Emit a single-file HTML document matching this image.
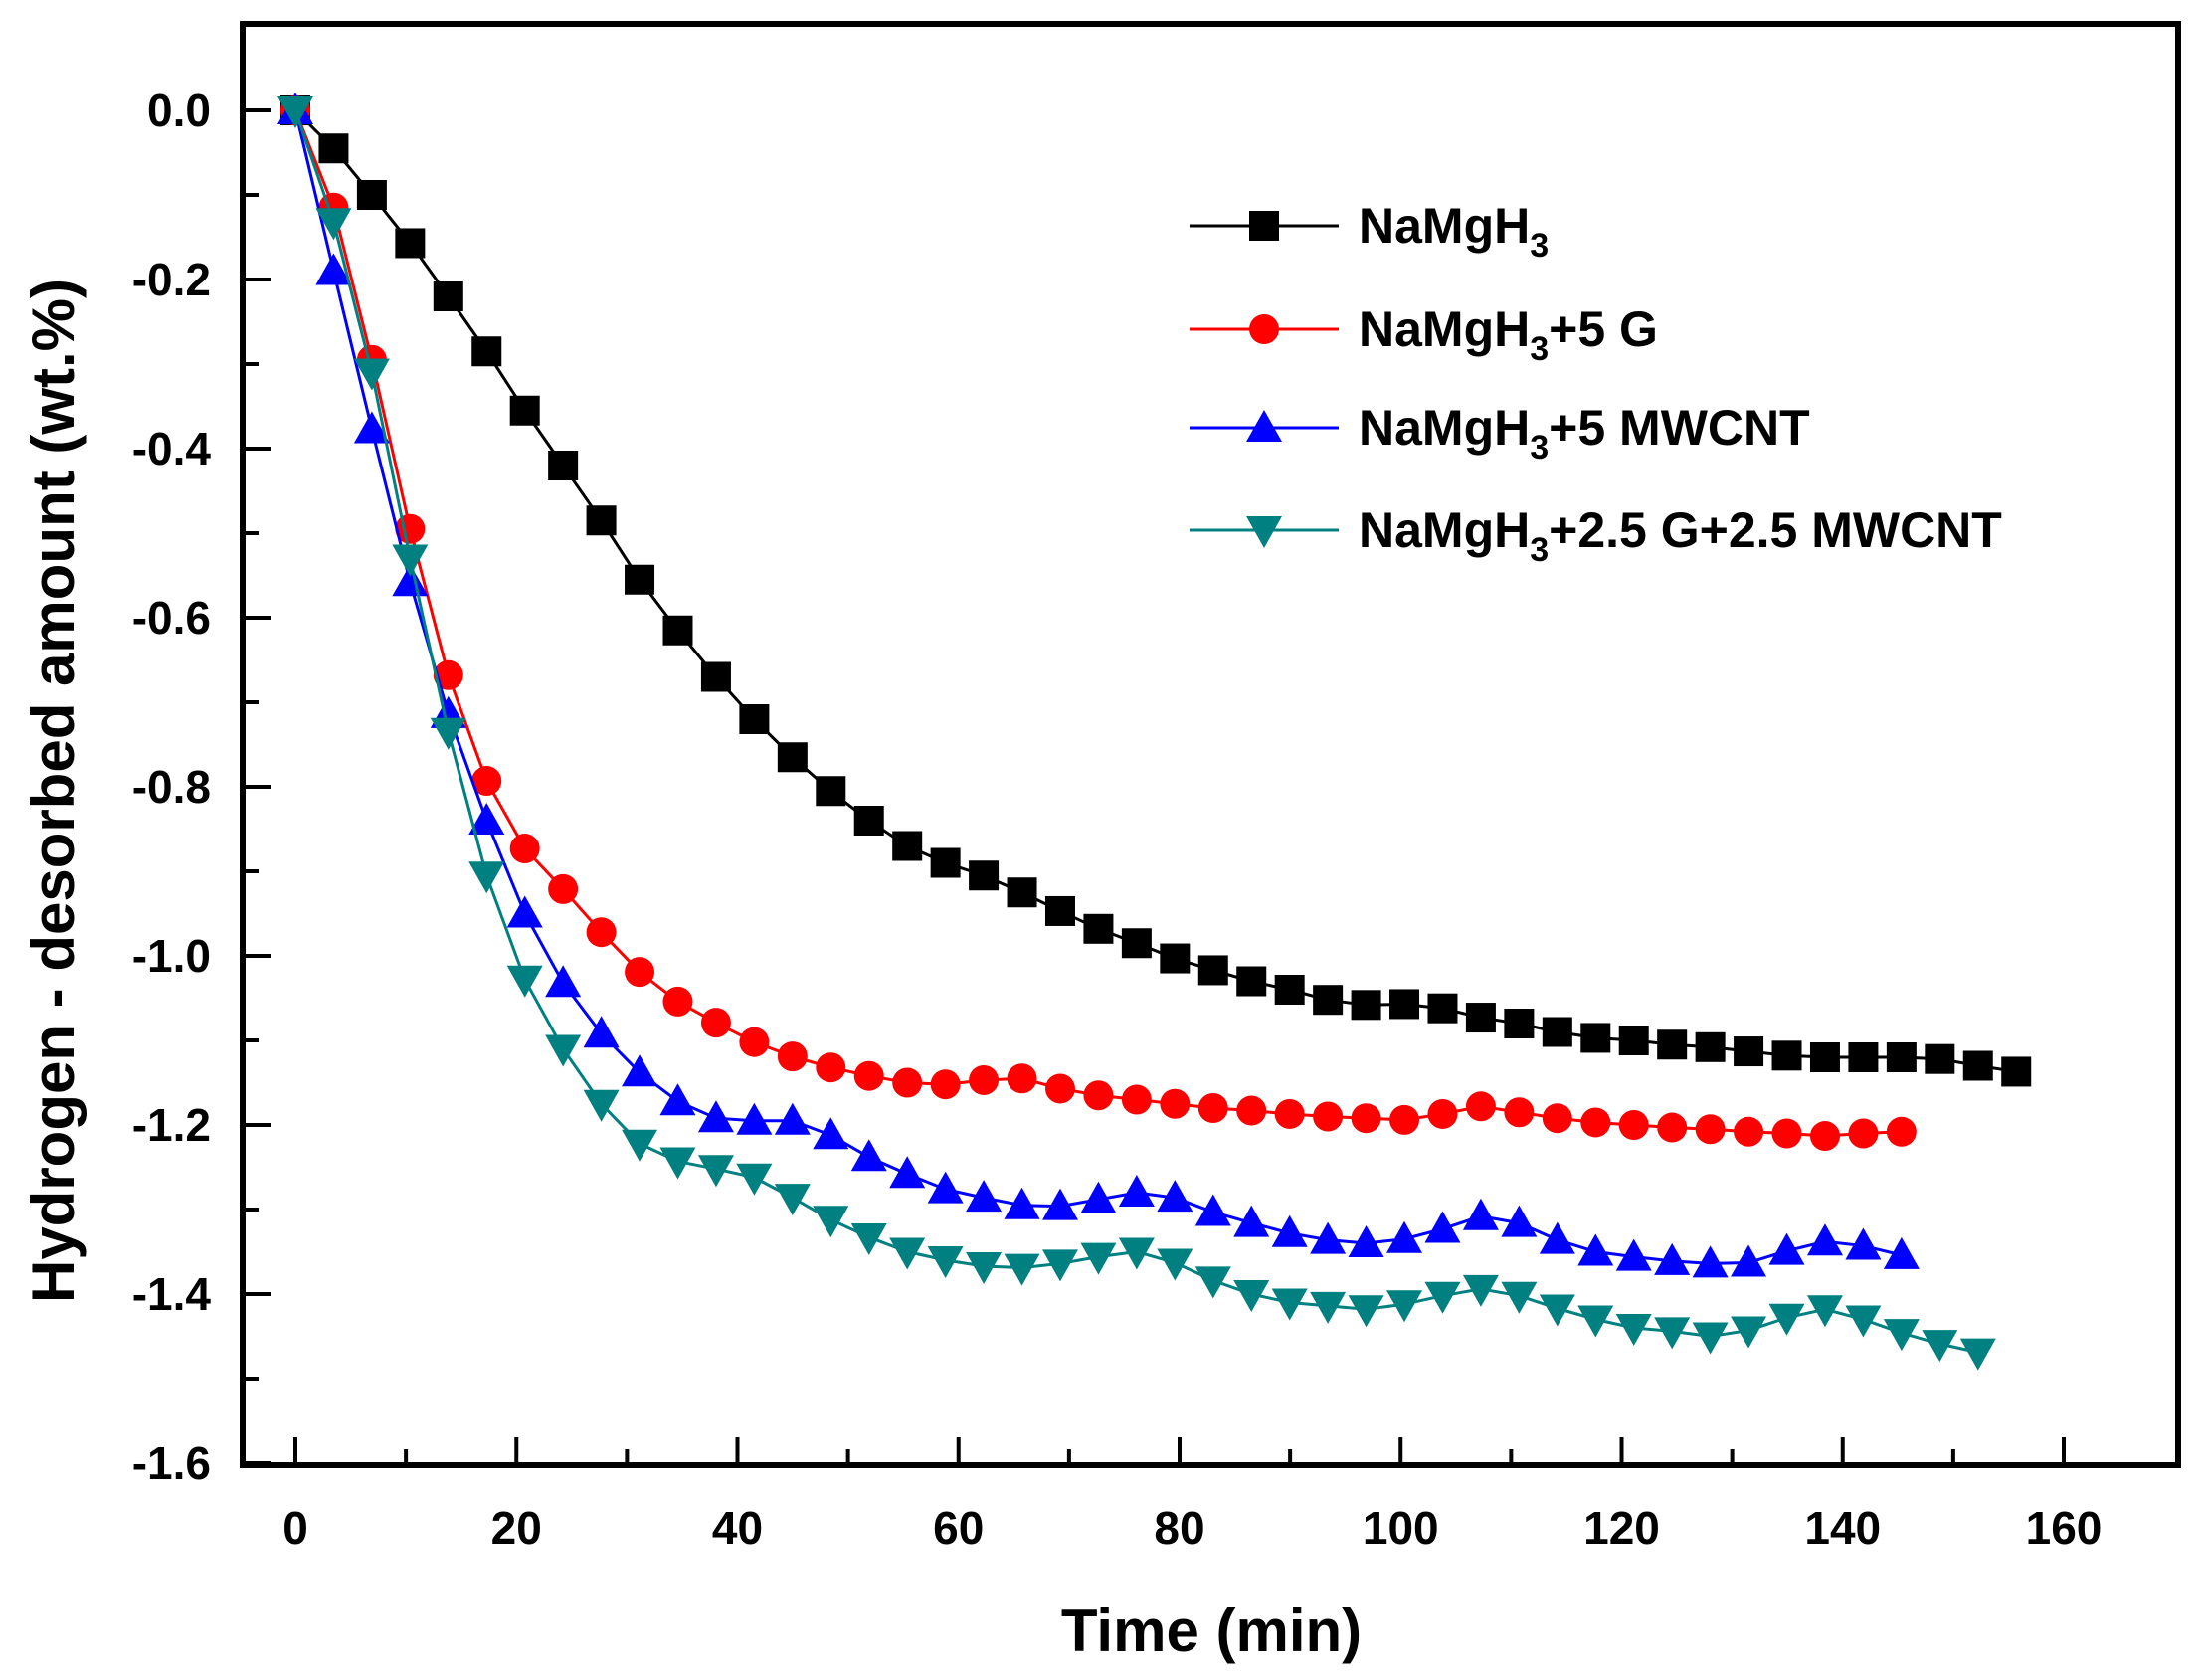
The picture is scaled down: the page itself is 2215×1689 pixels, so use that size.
<!DOCTYPE html>
<html><head><meta charset="utf-8"><style>
html,body{margin:0;padding:0;background:#fff}
svg{display:block;font-family:"Liberation Sans",Arial,sans-serif;font-weight:bold}
</style></head><body>
<svg id="chart" width="2215" height="1689" viewBox="0 0 2215 1689" xmlns="http://www.w3.org/2000/svg">
<rect x="0" y="0" width="2215" height="1689" fill="#fff"/>
<g id="plot"></g>
<rect x="244" y="24" width="1946" height="1449" fill="none" stroke="#000" stroke-width="6"/>
<g id="axes"></g>
<text x="1218" y="1660" font-size="60" text-anchor="middle">Time (min)</text>
<text transform="translate(74,795) rotate(-90)" font-size="60" text-anchor="middle">Hydrogen - desorbed amount (wt.%)</text>
<g id="legend"></g>
</svg>
<script>
const step = 3.46;
const blackVals = [0,-0.045,-0.10,-0.157,-0.22,-0.285,-0.355,-0.42,-0.485,-0.555,-0.615,-0.67,-0.72,-0.765,-0.805,-0.84,-0.87,-0.89,-0.905,-0.925,-0.947,-0.968,-0.985,-1.003,-1.017,-1.03,-1.04,-1.052,-1.058,-1.057,-1.062,-1.073,-1.08,-1.09,-1.097,-1.10,-1.105,-1.108,-1.113,-1.118,-1.12,-1.12,-1.12,-1.122,-1.13,-1.137];
const redVals = [0,-0.115,-0.295,-0.495,-0.668,-0.793,-0.873,-0.921,-0.972,-1.019,-1.054,-1.079,-1.102,-1.119,-1.132,-1.142,-1.15,-1.152,-1.147,-1.145,-1.157,-1.165,-1.17,-1.175,-1.18,-1.183,-1.187,-1.19,-1.192,-1.194,-1.187,-1.178,-1.185,-1.192,-1.197,-1.2,-1.203,-1.205,-1.208,-1.21,-1.213,-1.21,-1.208];
const blueVals = [0,-0.19,-0.377,-0.558,-0.714,-0.84,-0.95,-1.032,-1.092,-1.138,-1.172,-1.192,-1.195,-1.195,-1.212,-1.238,-1.258,-1.276,-1.286,-1.295,-1.296,-1.288,-1.28,-1.286,-1.303,-1.316,-1.328,-1.336,-1.34,-1.335,-1.323,-1.308,-1.316,-1.336,-1.35,-1.356,-1.361,-1.364,-1.363,-1.349,-1.338,-1.343,-1.354];
const tealVals = [0,-0.132,-0.31,-0.53,-0.735,-0.905,-1.028,-1.11,-1.175,-1.222,-1.243,-1.252,-1.262,-1.286,-1.312,-1.333,-1.35,-1.36,-1.367,-1.369,-1.364,-1.356,-1.35,-1.363,-1.384,-1.4,-1.41,-1.414,-1.418,-1.412,-1.402,-1.394,-1.402,-1.417,-1.43,-1.44,-1.444,-1.45,-1.443,-1.428,-1.418,-1.43,-1.446,-1.459,-1.469];
const xTicks = [0,20,40,60,80,100,120,140,160];
const yTicks = [0,-0.2,-0.4,-0.6,-0.8,-1.0,-1.2,-1.4,-1.6];
const seriesNames = ["NaMgH","NaMgH","NaMgH","NaMgH"];
const seriesSuffix = ["","+5 G","+5 MWCNT","+2.5 G+2.5 MWCNT"];

const NS="http://www.w3.org/2000/svg";
function X(t){return 297+t*(2075-297)/160;}
function Y(v){return 111-v*850;}
function mk(tag,attrs,parent){const e=document.createElementNS(NS,tag);for(const k in attrs)e.setAttribute(k,attrs[k]);parent.appendChild(e);return e;}
const axes=document.getElementById('axes'),plot=document.getElementById('plot'),legend=document.getElementById('legend');

for(let t=0;t<=170;t+=10){const x=X(t);if(x>2185)break;const major=t%20===0;
 const l=mk('line',{x1:x,x2:x,y1:1473,y2:1473-(major?28:16),stroke:'#000','stroke-width':4},axes);
 
 }
xTicks.forEach(t=>{const e=mk('text',{x:X(t),y:1552,'font-size':46,'text-anchor':'middle'},axes);e.textContent=String(t);
 
 });
for(let i=0;i<=16;i++){const v=-i*0.1;const y=Y(v);const major=i%2===0;
 const l=mk('line',{x1:244,x2:244+(major?28:16),y1:y,y2:y,stroke:'#000','stroke-width':4},axes);
 
 }
yTicks.forEach(v=>{const e=mk('text',{x:212,y:Y(v)+16,'font-size':46,'text-anchor':'end'},axes);e.textContent=v.toFixed(1);
 
 });

const colors=['#000000','#ff0000','#0000ff','#008080'];
const shapes=['square','circle','up','down'];
function marker(shape,x,y,c,parent){const s=15;let e;
 if(shape==='square')e=mk('rect',{x:x-s,y:y-s,width:2*s,height:2*s,fill:c},parent);
 else if(shape==='circle')e=mk('circle',{cx:x,cy:y,r:s,fill:c},parent);
 else if(shape==='up')e=mk('polygon',{points:`${x},${y-s-3} ${x-s-3},${y+s-1} ${x+s+3},${y+s-1}`,fill:c},parent);
 else e=mk('polygon',{points:`${x},${y+s+3} ${x-s-3},${y-s+1} ${x+s+3},${y-s+1}`,fill:c},parent);
 return e;}
const all=[blackVals,redVals,blueVals,tealVals];
const snames=['series-namgh3','series-namgh3-5g','series-namgh3-5mwcnt','series-namgh3-g-mwcnt'];
all.forEach((vals,si)=>{
 const g=mk('g',{},plot);
 
 
 const pts=vals.map((v,i)=>X(i*step)+','+Y(v)).join(' ');
 const pl=mk('polyline',{points:pts,fill:'none',stroke:colors[si],'stroke-width':3},g);
 
 
 vals.forEach((v,i)=>{const m=marker(shapes[si],X(i*step),Y(v),colors[si],g);
  
  });
});
const ly=[227,331,430,533];
seriesNames.forEach((n,i)=>{
 const g=mk('g',{},legend);
 
 
 mk('line',{x1:1196,x2:1346,y1:ly[i],y2:ly[i],stroke:colors[i],'stroke-width':3},g);
 marker(shapes[i],1271,ly[i],colors[i],g);
 const t=mk('text',{x:1366,y:ly[i]+17,'font-size':50},g);
 t.appendChild(document.createTextNode(n));
 const sub=mk('tspan',{dy:14,'font-size':34},t);sub.textContent='3';
 const rest=mk('tspan',{dy:-14},t);rest.textContent=seriesSuffix[i];
});
</script>
</body></html>
